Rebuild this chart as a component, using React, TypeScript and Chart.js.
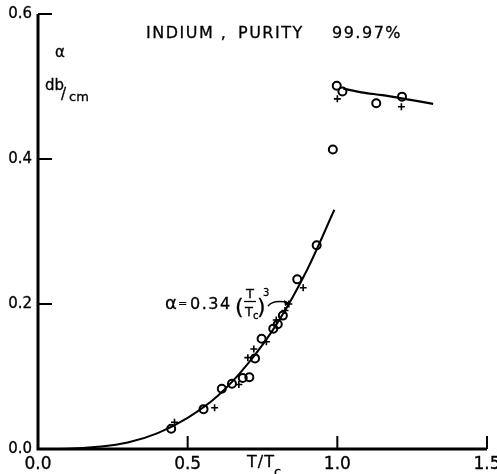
import React, { useEffect, useRef } from "react";
import { Chart, registerables } from "chart.js";
Chart.register(...registerables);

const xTicks = [0, 0.5, 1.0, 1.5];
const yTicks = [0, 0.2, 0.4, 0.6];

// open circles (T/Tc, alpha)
const circleT = [0.445, 0.553, 0.614, 0.648, 0.684, 0.706, 0.725, 0.747, 0.786, 0.801, 0.818, 0.866, 0.931, 0.985, 0.998, 1.017, 1.13, 1.216];
const circleA = [0.028, 0.055, 0.083, 0.09, 0.098, 0.099, 0.125, 0.152, 0.166, 0.172, 0.184, 0.234, 0.281, 0.413, 0.501, 0.493, 0.477, 0.486];

// crosses
const crossT = [0.456, 0.59, 0.671, 0.701, 0.721, 0.763, 0.796, 0.825, 0.838, 0.886, 1.0, 1.214];
const crossA = [0.037, 0.057, 0.089, 0.126, 0.138, 0.148, 0.178, 0.191, 0.2, 0.2225, 0.483, 0.472];

// fitted curve alpha = 0.34 (T/Tc)^3
const fitT = [0, 0.1, 0.2, 0.3, 0.4, 0.5, 0.6, 0.7, 0.8, 0.9, 0.99];
const fitA = [0, 0.0003, 0.003, 0.009, 0.022, 0.043, 0.073, 0.117, 0.174, 0.248, 0.33];

// normal state curve
const normT = [1.02, 1.08, 1.15, 1.21, 1.32];
const normA = [0.497, 0.492, 0.488, 0.484, 0.476];

const FONT = '"DejaVu Sans", sans-serif';
const STROKE = 0.3;

const decor = {
  id: "decor",
  afterDraw(chart: any) {
    const ctx = chart.ctx as CanvasRenderingContext2D;
    const xs = chart.scales.x;
    const ys = chart.scales.y;
    const x0 = xs.getPixelForValue(xTicks[0]);
    const x1 = xs.getPixelForValue(xTicks[xTicks.length - 1]);
    const y0 = ys.getPixelForValue(yTicks[0]);
    const y1 = ys.getPixelForValue(yTicks[yTicks.length - 1]);
    ctx.save();
    ctx.strokeStyle = "#000";
    ctx.fillStyle = "#000";
    ctx.lineWidth = 3;
    ctx.beginPath();
    ctx.moveTo(x0, y1);
    ctx.lineTo(x0, y0);
    ctx.lineTo(x1, y0);
    ctx.stroke();
    ctx.lineWidth = 2;
    ctx.beginPath();
    yTicks.filter((v) => v > 0).forEach((v) => {
      const p = ys.getPixelForValue(v);
      ctx.moveTo(x0, p);
      ctx.lineTo(x0 + 14, p);
    });
    xTicks.filter((v) => v > 0).forEach((v) => {
      const p = xs.getPixelForValue(v);
      ctx.moveTo(p, y0);
      ctx.lineTo(p, y0 - 13);
    });
    ctx.stroke();

    const txt = (s: string, x: number, y: number, size: number, ls = "0px") => {
      (ctx as any).letterSpacing = ls;
      ctx.font = `${size}px ${FONT}`;
      ctx.textAlign = "left";
      ctx.textBaseline = "alphabetic";
      ctx.lineWidth = STROKE;
      ctx.fillText(s, x, y);
      ctx.strokeText(s, x, y);
    };

    // title
    txt("INDIUM ,", 146, 38, 16, "1.5px");
    txt("PURITY", 238, 38, 16, "1.5px");
    txt("99.97%", 332, 38, 16, "1.5px");

    // y axis label
    txt("\u03B1", 55, 57, 15);
    txt("db", 45, 90, 15);
    txt("/", 61, 99, 15);
    txt("cm", 69, 101, 13);

    // x axis label
    txt("T/T", 247, 467, 16, "1px");
    txt("c", 274, 476, 13);

    // formula annotation
    txt("\u03B1", 165, 309, 18);
    txt("=", 178, 307, 11);
    txt("0.34", 190, 309, 16, "1.5px");
    txt("(", 235, 314, 22);
    txt("T", 246, 298, 13);
    ctx.lineWidth = 1.3;
    ctx.beginPath();
    ctx.moveTo(244, 301.5);
    ctx.lineTo(256, 301.5);
    ctx.stroke();
    txt("T", 245, 316, 13);
    txt("c", 253, 319, 10);
    txt(")", 257, 314, 22);
    txt("3", 263, 296, 10);
    ctx.lineWidth = 1.5;
    ctx.beginPath();
    ctx.moveTo(268, 306);
    ctx.quadraticCurveTo(274, 299, 289, 303);
    ctx.stroke();
    ctx.beginPath();
    ctx.moveTo(290, 303.5);
    ctx.lineTo(284, 300);
    ctx.lineTo(285, 306);
    ctx.closePath();
    ctx.fill();
    ctx.restore();
  },
};

export default function App() {
  const ref = useRef<HTMLCanvasElement | null>(null);
  useEffect(() => {
    if (!ref.current) return;
    const pts = (xs: number[], ys: number[]) => xs.map((x, i) => ({ x, y: ys[i] }));
    const chart = new Chart(ref.current, {
      type: "scatter",
      data: {
        datasets: [
          {
            data: pts(fitT, fitA),
            showLine: true,
            borderColor: "#000",
            borderWidth: 2,
            pointRadius: 0,
            cubicInterpolationMode: "monotone",
            clip: false,
          } as any,
          {
            data: pts(normT, normA),
            showLine: true,
            borderColor: "#000",
            borderWidth: 2.2,
            pointRadius: 0,
            cubicInterpolationMode: "monotone",
            clip: false,
          } as any,
          {
            data: pts(crossT, crossA),
            pointStyle: "cross",
            pointRadius: 3.5,
            borderColor: "#000",
            borderWidth: 1.6,
            clip: false,
          } as any,
          {
            data: pts(circleT, circleA),
            pointStyle: "circle",
            pointRadius: 4,
            borderColor: "#000",
            backgroundColor: "rgba(255,255,255,0)",
            borderWidth: 2,
            clip: false,
          } as any,
        ],
      },
      options: {
        animation: false,
        responsive: false,
        devicePixelRatio: 1,
        layout: { padding: { top: 14, right: 10, left: 0, bottom: 0 } },
        plugins: { legend: { display: false }, tooltip: { enabled: false } },
        scales: {
          x: {
            type: "linear",
            min: 0,
            max: 1.5,
            grid: { display: false, drawTicks: false },
            border: { display: false },
            afterBuildTicks: (s: any) => {
              s.ticks = xTicks.map((v) => ({ value: v }));
            },
            afterFit: (s: any) => {
              s.height = 25;
              s.paddingLeft = 0;
              s.paddingRight = 0;
            },
            ticks: {
              color: "#000",
              padding: 5,
              maxRotation: 0,
              textStrokeColor: "#000",
              textStrokeWidth: STROKE,
              font: { family: FONT, size: 17 },
              callback: (v: any) => Number(v).toFixed(1),
            },
          },
          y: {
            type: "linear",
            min: 0,
            max: 0.6,
            grid: { display: false, drawTicks: false },
            border: { display: false },
            afterBuildTicks: (s: any) => {
              s.ticks = yTicks.map((v) => ({ value: v }));
            },
            afterFit: (s: any) => {
              s.width = 38;
              s.paddingTop = 0;
              s.paddingBottom = 0;
            },
            ticks: {
              color: "#000",
              padding: 6,
              textStrokeColor: "#000",
              textStrokeWidth: STROKE,
              font: { family: FONT, size: 15 },
              callback: (v: any) => Number(v).toFixed(1),
            },
          },
        },
      },
      plugins: [decor],
    });
    return () => chart.destroy();
  }, []);
  return (
    <div style={{ position: "fixed", left: 0, top: 0, width: 497, height: 474, background: "#fff" }}>
      <canvas ref={ref} width={497} height={474} />
    </div>
  );
}
